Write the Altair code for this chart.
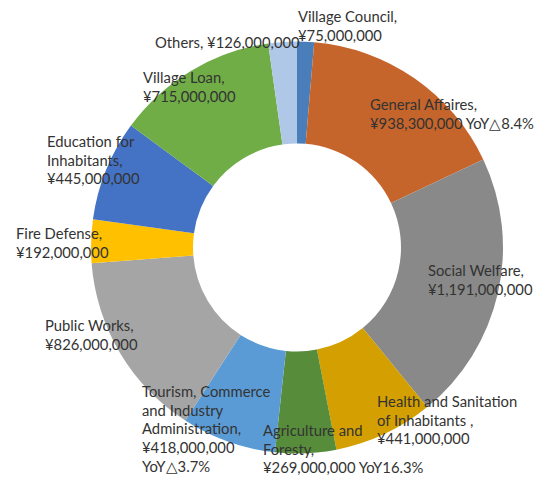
import altair as alt
import pandas as pd

# ---- data ----
categories = [
    "Village Council", "General Affaires", "Social Welfare",
    "Health and Sanitation of Inhabitants", "Agriculture and Foresty",
    "Tourism, Commerce and Industry Administration", "Public Works",
    "Fire Defense", "Education for Inhabitants", "Village Loan", "Others",
]
values = [75000000, 938300000, 1191000000, 441000000, 269000000,
          418000000, 826000000, 192000000, 445000000, 715000000, 126000000]
label_texts = [
    "Village Council,\n¥75,000,000",
    "General Affaires,\n¥938,300,000 YoY△8.4%",
    "Social Welfare,\n¥1,191,000,000",
    "Health and Sanitation\nof Inhabitants ,\n¥441,000,000",
    "Agriculture and\nForesty,\n¥269,000,000 YoY16.3%",
    "Tourism, Commerce\nand Industry\nAdministration,\n¥418,000,000\n YoY△3.7%",
    "Public Works,\n¥826,000,000",
    "Fire Defense,\n¥192,000,000",
    "Education for\nInhabitants,\n¥445,000,000",
    "Village Loan,\n¥715,000,000",
    "Others, ¥126,000,000",
]

# ---- styling / layout ----
colors = ["#4A7EBB", "#C5652B", "#898989", "#D49F00", "#578C3B",
          "#5B9BD5", "#A5A5A5", "#FFC000", "#4472C4", "#70AD47", "#AFC8E8"]
# label anchor (left x, first-line baseline y) in chart pixels
label_x = [290, 362, 420, 369, 255, 134, 37, 8, 39, 135, 147]
label_y = [14, 102, 268, 399, 428, 389, 323, 231, 139, 75, 40]

W, H = 527, 469
CX, CY = 289, 239.5

df = pd.DataFrame({
    "category": categories,
    "value": values,
    "idx": list(range(len(categories))),
})
lab = pd.DataFrame({
    "category": categories,
    "text": label_texts,
    "lx": label_x,
    "ly": label_y,
})

donut = alt.Chart(df).mark_arc(innerRadius=104, outerRadius=206).encode(
    theta=alt.Theta("value:Q", stack=True),
    color=alt.Color("category:N", scale=alt.Scale(domain=categories, range=colors), legend=None),
    order=alt.Order("idx:Q"),
    x=alt.value(CX),
    y=alt.value(CY),
)

labels = alt.Chart(lab).mark_text(
    align="left", baseline="alphabetic", font="Lato", fontSize=14.8,
    lineBreak="\n", lineHeight=18.7, color="#333333",
).encode(
    x=alt.X("lx:Q", scale=None),
    y=alt.Y("ly:Q", scale=None),
    text="text:N",
)

chart = alt.layer(donut, labels).properties(
    width=W, height=H, autosize=alt.AutoSizeParams(type="none"), padding=0,
).configure_view(stroke=None)

chart.save("out.html", embed_options={"renderer": "svg", "actions": False})
